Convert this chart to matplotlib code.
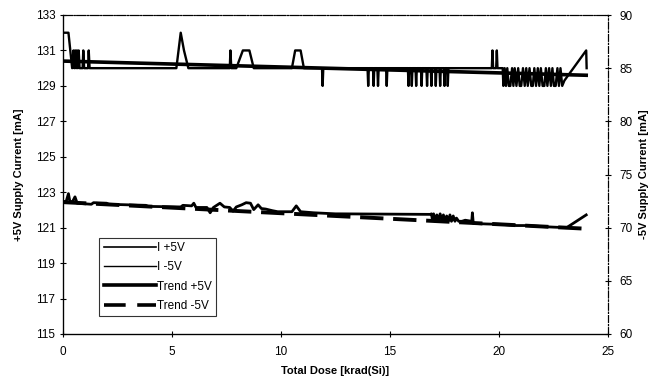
import matplotlib
matplotlib.use("Agg")
import matplotlib.pyplot as plt
from matplotlib.lines import Line2D

plt.rcParams['font.family'] = ['Liberation Sans', 'DejaVu Sans']

# ---------------- data ----------------
# +5V supply current (left axis), dose in krad(Si)
p5_dose = [0.00, 0.25, 0.42, 0.48, 0.52, 0.56, 0.60, 0.64, 0.68, 0.72, 0.76,
           0.90, 0.93, 0.97, 1.15, 1.18, 1.22,
           5.20, 5.40, 5.55, 5.75,
           7.65, 7.68, 7.72, 7.95, 8.25, 8.55, 8.75,
           10.50, 10.65, 10.90, 11.05, 11.88, 11.91, 11.94,
           13.97, 14.00, 14.03, 14.22, 14.25, 14.28, 14.42, 14.45, 14.48,
           14.82, 14.85, 14.88,
           15.82, 15.85, 15.88, 15.97, 16.00, 16.03, 16.17, 16.20, 16.23,
           16.42, 16.45, 16.48, 16.67, 16.70, 16.73, 16.87, 16.90, 16.93,
           17.07, 17.10, 17.13, 17.27, 17.30, 17.33, 17.47, 17.50, 17.53,
           17.62, 17.65, 17.68,
           19.67, 19.70, 19.73, 19.87, 19.90, 19.93,
           20.17, 20.20, 20.26, 20.32, 20.38, 20.45, 20.52, 20.60, 20.66,
           20.72, 20.80, 20.88, 20.95, 21.02, 21.10, 21.18, 21.25, 21.32,
           21.40, 21.48, 21.55, 21.62, 21.70, 21.78, 21.85, 21.92, 22.00,
           22.08, 22.15, 22.22, 22.30, 22.38, 22.45, 22.52, 22.60, 22.68,
           22.75, 22.82, 22.90, 23.00,
           24.00, 24.02]
p5_ma = [132, 132, 130, 131, 130, 131, 130, 131, 130, 131, 130,
         130, 131, 130, 130, 131, 130,
         130, 132, 131, 130,
         130, 131, 130, 130, 131, 131, 130,
         130, 131, 131, 130, 130, 129, 130,
         130, 129, 130, 130, 129, 130, 130, 129, 130,
         130, 129, 130,
         130, 129, 130, 130, 129, 130, 130, 129, 130,
         130, 129, 130, 130, 129, 130, 130, 129, 130,
         130, 129, 130, 130, 129, 130, 130, 129, 130,
         130, 129, 130,
         130, 131, 130, 130, 131, 130,
         130, 129, 130, 129, 130, 129, 129, 130, 129,
         130, 129, 130, 129, 129, 130, 129, 130, 129,
         130, 129, 129, 130, 129, 130, 129, 130, 129,
         129, 130, 129, 130, 129, 130, 129, 129, 130,
         129, 130, 129, 129.3,
         131, 130]

# -5V supply current (right axis)
m5_dose = [0.00, 0.15, 0.25, 0.32, 0.45, 0.55, 0.65, 1.30, 1.40, 2.00, 2.10,
           3.80, 3.90, 5.40, 5.50, 5.90, 6.00, 6.10, 6.60, 6.75, 6.90, 7.20,
           7.40, 7.65, 7.80, 7.95, 8.20, 8.40, 8.60, 8.75, 8.95, 9.10, 9.30,
           9.60, 9.85, 10.50, 10.70, 10.90, 11.50, 12.50, 12.70, 16.85,
           16.90, 16.95, 17.00, 17.08, 17.15, 17.22, 17.30, 17.38, 17.45,
           17.52, 17.60, 17.68, 17.75, 17.82, 17.90, 17.98, 18.05, 18.15,
           18.30, 18.45, 18.75, 18.78, 18.82, 19.40, 20.20, 20.80, 21.30,
           22.00, 22.50, 23.10, 24.00]
m5_ma = [72.4, 72.5, 73.2, 72.4, 72.5, 72.9, 72.3, 72.2, 72.35, 72.3, 72.2,
         72.1, 72.0, 71.95, 72.1, 72.05, 72.3, 71.9, 71.9, 71.4, 71.9, 72.3,
         71.95, 71.9, 71.55, 71.95, 72.15, 72.35, 72.3, 71.7, 72.15, 71.8, 71.75,
         71.6, 71.5, 71.5, 72.05, 71.5, 71.4, 71.3, 71.3, 71.25,
         71.3, 70.7, 71.3, 70.6, 71.2, 70.6, 71.3, 70.7, 71.2,
         70.6, 71.1, 70.6, 71.2, 70.6, 71.1, 70.6, 70.9, 70.6,
         70.6, 70.7, 70.6, 71.4, 70.4, 70.35, 70.3, 70.2, 70.2,
         70.1, 70.05, 70.0, 71.2]

# linear trend lines (end points)
trend_dose = [0.0, 24.0]
trend_p5 = [130.4, 129.6]
trend_m5 = [72.4, 69.9]

fig = plt.figure(figsize=(6.59, 3.78), dpi=100)
ax = fig.add_axes([63 / 659, 1 - 334 / 378, 545 / 659, 319 / 378])
ax2 = ax.twinx()

ax.plot(p5_dose, p5_ma, color="black", lw=1.7)
ax.plot(trend_dose, trend_p5, color="black", lw=2.6)
ax2.plot(m5_dose, m5_ma, color="black", lw=2.0)
ax2.plot(trend_dose, trend_m5, color="black", lw=2.8, dashes=(6, 2.5))

ax.set_xlim(0, 25)
ax.set_ylim(115, 133)
ax2.set_ylim(60, 90)
ax.set_xticks(range(0, 26, 5))
ax.set_yticks(range(115, 134, 2))
ax2.set_yticks(range(60, 91, 5))

for a in (ax, ax2):
    a.tick_params(direction="inout", length=5, width=0.8, labelsize=8.5,
                  colors="black", pad=3)
ax.tick_params(axis="x", pad=6)
ax2.tick_params(axis="y", pad=6)

for sp in ("left", "bottom"):
    ax.spines[sp].set_linewidth(0.9)
for a in (ax, ax2):
    a.spines["top"].set_linewidth(0.8)
    a.spines["top"].set_linestyle((0, (8, 1.5, 1, 1.5)))
    a.spines["right"].set_linewidth(0.8)
    a.spines["right"].set_linestyle((0, (6, 2, 1, 2)))

ax.set_xlabel("Total Dose [krad(Si)]", fontsize=8, fontweight="bold", labelpad=6)
ax.set_ylabel("+5V Supply Current [mA]", fontsize=8, fontweight="bold", labelpad=8)
ax2.set_ylabel("-5V Supply Current [mA]", fontsize=8, fontweight="bold", labelpad=4)

handles = [Line2D([], [], color="black", lw=1.2),
           Line2D([], [], color="black", lw=1.0),
           Line2D([], [], color="black", lw=2.6),
           Line2D([], [], color="black", lw=2.6, dashes=(6, 3.2))]
labels = ["I +5V", "I -5V", "Trend +5V", "Trend -5V"]
leg = ax.legend(handles, labels, loc="upper left", bbox_to_anchor=(0.066, 0.302),
                fontsize=8.5, frameon=True, fancybox=False, handlelength=4.4,
                handletextpad=0.1, borderpad=0.4, labelspacing=0.6,
                borderaxespad=0)
leg.get_frame().set_edgecolor("black")
leg.get_frame().set_linewidth(0.8)

fig.savefig("out.png", dpi=100)
